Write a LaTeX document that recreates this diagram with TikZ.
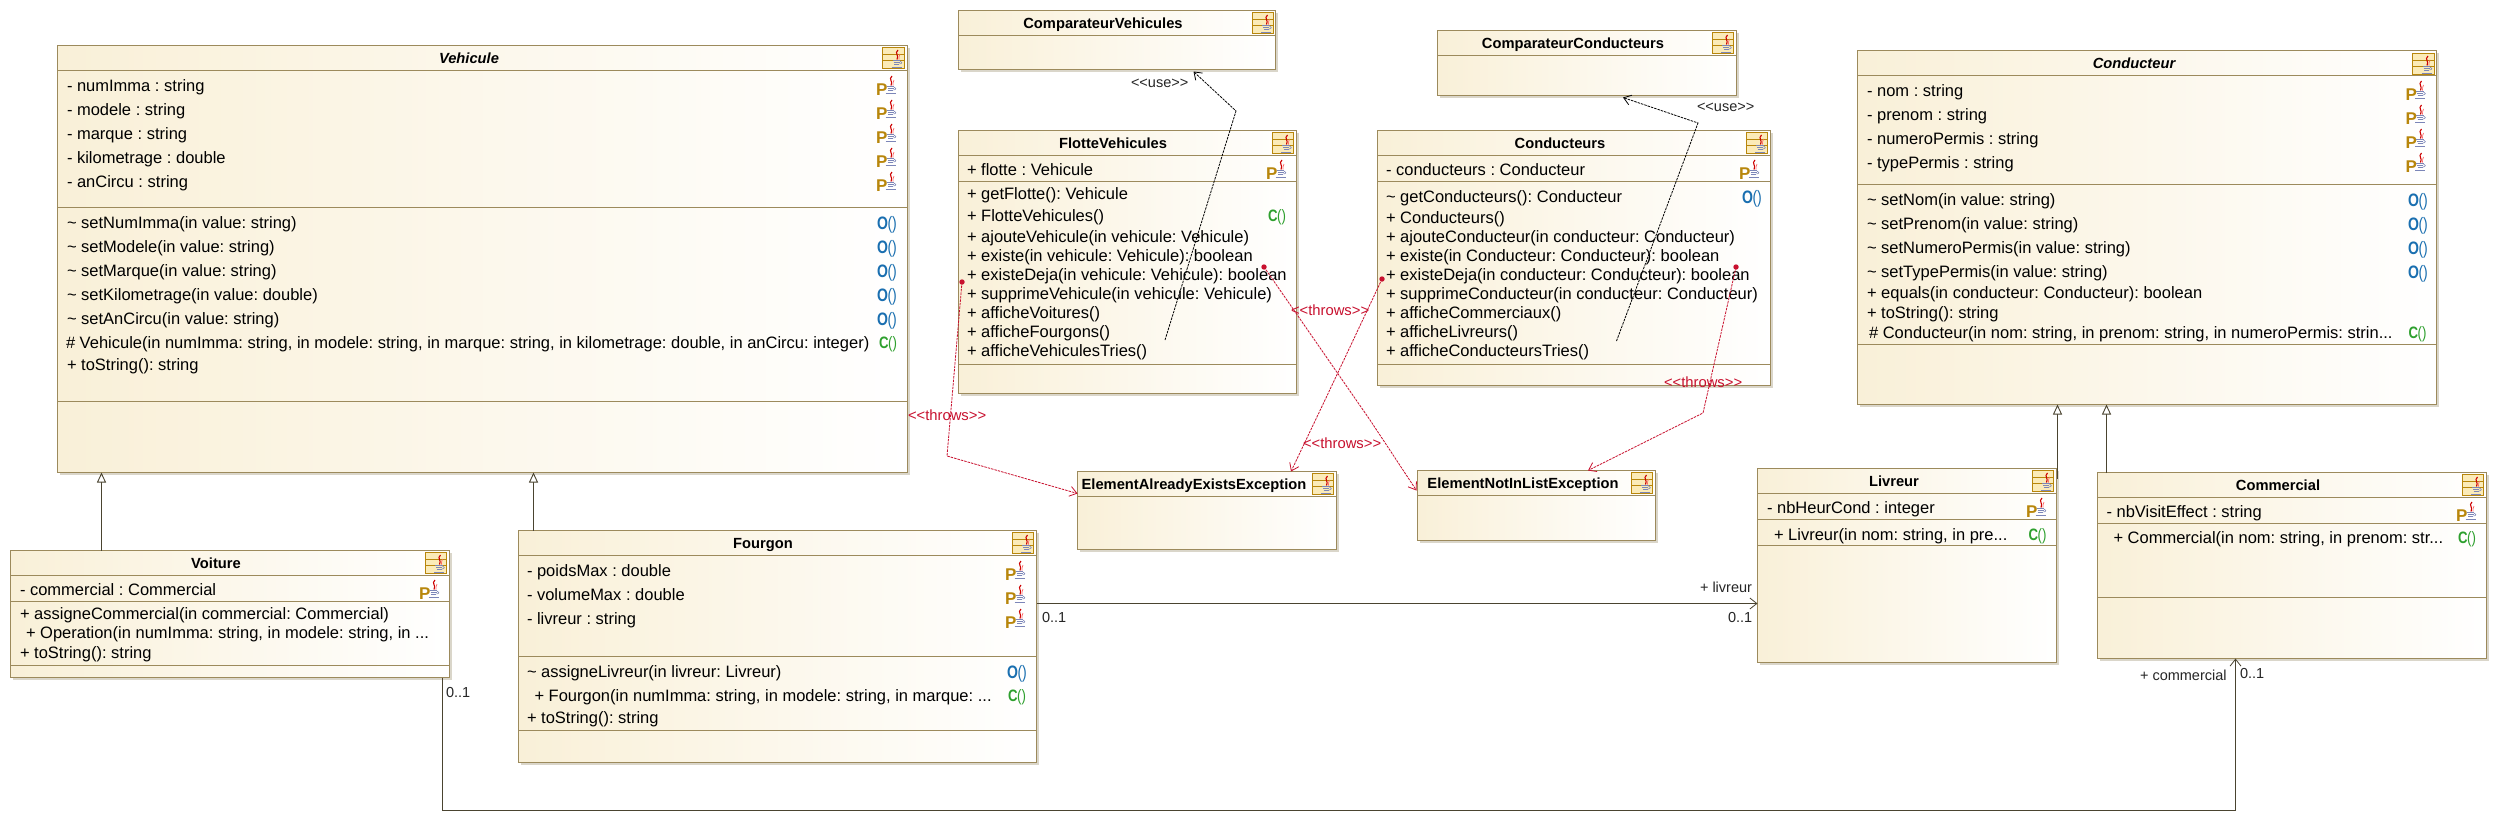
\documentclass[tikz,border=0pt]{standalone}
\usepackage{fontspec}
\setmainfont{Liberation Sans}
\usetikzlibrary{arrows.meta,calc}
\definecolor{umlborder}{HTML}{9C8A5C}
\definecolor{umlcream}{HTML}{F9F0D8}
\definecolor{umlshadow}{HTML}{DAD6CA}
\definecolor{umlred}{HTML}{C8102E}
\definecolor{umlline}{HTML}{4A4430}
\definecolor{umlgold}{HTML}{B8860B}
\definecolor{umlicon}{HTML}{FBEBB8}
\definecolor{umlcup}{HTML}{7C86B8}
\definecolor{umlop}{HTML}{1A6FB0}
\definecolor{umlctor}{HTML}{2EA02E}
\newcount\umlid
\frenchspacing
\tikzset{
  x=1pt,y=-1pt,
  classbox/.style={draw=umlborder,line width=1.1pt,left color=umlcream,right color=white,inner sep=0pt,outer sep=0pt,anchor=north west},
  sepline/.style={draw=umlborder,line width=1pt},
  rowtext/.style={anchor=base west,inner sep=0pt,outer sep=0pt,font=\fontsize{16.5}{18}\selectfont,text=black},
  nametext/.style={anchor=base,inner sep=0pt,outer sep=0pt,font=\fontsize{14.7}{18}\selectfont\bfseries,text=black},
  absnametext/.style={nametext,font=\fontsize{14.7}{18}\selectfont\bfseries\itshape},
  linktext/.style={anchor=base west,inner sep=0pt,outer sep=0pt,font=\fontsize{14.5}{18}\selectfont,text=black!85},
  throwtext/.style={anchor=base west,inner sep=0pt,outer sep=0pt,font=\fontsize{14.8}{18}\selectfont,text=umlred},
  opicon/.style={anchor=base west,inner sep=0pt,outer sep=0pt,text=umlop},
  ctoricon/.style={anchor=base west,inner sep=0pt,outer sep=0pt,text=umlctor},
  pvicon/.style={anchor=base west,inner sep=0pt,outer sep=0pt,text=umlgold,font=\fontsize{17}{18}\selectfont\bfseries},
  genlink/.style={draw=umlline,line width=.9pt,-{Triangle[open,fill=white,length=10pt,width=9pt]}},
  assoclink/.style={draw=umlline,line width=1.1pt,-{Straight Barb[length=7pt,width=11pt,line width=.8pt]}},
  uselink/.style={draw=black,line width=.8pt,dash pattern=on 2.5pt off 1pt,-{Straight Barb[length=7pt,width=10pt,line width=.8pt]}},
  throwlink/.style={draw=umlred,line width=.8pt,dash pattern=on 2.5pt off 1pt,-{Straight Barb[length=7pt,width=10pt,line width=.8pt]}},
  throwdot/.style={fill=umlred},
}
% box: name, left, top, right, bottom, separators
\newcommand{\umlbox}[6]{%
  \fill[umlshadow] (#2+2,#3+2) rectangle (#4+2,#5+2);
  \pgfmathsetmacro{\umlw}{#4-#2}\pgfmathsetmacro{\umlh}{#5-#3}%
  \node[classbox,minimum width=\umlw pt,minimum height=\umlh pt] (#1) at (#2,#3) {};
  \foreach \umls in {#6} \draw[sepline] (#2,\umls) -- (#4,\umls);
}
\newcommand{\umlcup}[2]{%
  \begin{scope}[shift={(#1,#2)}]
    \draw[red!80!black,line width=1.1pt] (1.5,0) .. controls (-2.5,3.5) and (3,5) .. (0.5,9.5);
    \draw[red!60!white,line width=.7pt] (3.5,4) .. controls (1.5,6) and (3.5,7) .. (2.5,9.5);
    \draw[umlcup,line width=.8pt] (-4,10.5) -- (3.5,10.5) (-3,12.5) -- (3,12.5) (-2.5,14.5) -- (2.5,14.5) (-5,17) -- (5,17);
    \draw[umlcup,line width=.6pt] (3.5,11) .. controls (6,11) and (6,14) .. (3,14);
  \end{scope}
}
% class icon: left and top
\newcommand{\umlcls}[2]{%
  \begin{scope}[shift={(#1,#2)}]
    \fill[umlicon] (0,0) rectangle (21.5,21.5);
    \draw[umlgold,line width=1pt] (0,0) rectangle (21.5,21.5) (0,7) -- (21.5,7) (0,13) -- (21.5,13);
  \end{scope}
  \umlcup{#1+14}{#2+3}
}
\newcommand{\umlname}[3]{\global\advance\umlid 1 \node[nametext] (t\the\umlid) at (#1,#2+5.2) {#3};}
\newcommand{\umlabs}[3]{\global\advance\umlid 1 \node[absnametext] (t\the\umlid) at (#1,#2+5.2) {#3};}
\newcommand{\umlrow}[3]{\global\advance\umlid 1 \node[rowtext] (t\the\umlid) at (#1,#2+5.7) {#3};}
% attribute icon: left of the P, centre line of the row
\newcommand{\umlpv}[2]{\global\advance\umlid 1 \node[pvicon] (t\the\umlid) at (#1,#2+9) {P};\umlcup{#1+14.5}{#2-10}}
\newcommand{\umlopi}[2]{\global\advance\umlid 1 \node[opicon] (t\the\umlid) at (#1,#2+6.3) {\scalebox{.78}[1]{\fontsize{18}{18}\selectfont\bfseries O\kern-.5pt\mdseries()}};}
\newcommand{\umlctori}[2]{\global\advance\umlid 1 \node[ctoricon] (t\the\umlid) at (#1,#2+5.7) {\scalebox{.8}[1]{\fontsize{16.5}{18}\selectfont\bfseries C\kern-.5pt\mdseries()}};}
\begin{document}
\begin{tikzpicture}
\useasboundingbox (0,0) rectangle (2498,831);
\fill[white] (0,0) rectangle (2498,831);

% ---- Vehicule
\umlbox{veh}{57.5}{45.5}{907.5}{472.5}{70.5,207.5,401.5}
\umlcls{882.5}{47}
\umlabs{469}{58}{Vehicule}
\umlrow{67}{86}{- numImma : string}\umlpv{876}{86}
\umlrow{67}{110}{- modele : string}\umlpv{876}{110}
\umlrow{67}{134}{- marque : string}\umlpv{876}{134}
\umlrow{67}{158}{- kilometrage : double}\umlpv{876}{158}
\umlrow{67}{182}{- anCircu : string}\umlpv{876}{182}
\umlrow{67}{223}{\textasciitilde\ setNumImma(in value: string)}\umlopi{877}{223}
\umlrow{67}{247}{\textasciitilde\ setModele(in value: string)}\umlopi{877}{247}
\umlrow{67}{271}{\textasciitilde\ setMarque(in value: string)}\umlopi{877}{271}
\umlrow{67}{295}{\textasciitilde\ setKilometrage(in value: double)}\umlopi{877}{295}
\umlrow{67}{319}{\textasciitilde\ setAnCircu(in value: string)}\umlopi{877}{319}
\umlrow{66}{343}{\# Vehicule(in numImma: string, in modele: string, in marque: string, in kilometrage: double, in anCircu: integer)}\umlctori{879}{343}
\umlrow{67}{365}{+ toString(): string}

% ---- ComparateurVehicules
\umlbox{cmpv}{958.5}{10.5}{1275.5}{69.5}{35.5}
\umlcls{1252}{12}
\umlname{1103}{23}{ComparateurVehicules}

% ---- ComparateurConducteurs
\umlbox{cmpc}{1437.5}{30.5}{1736.5}{95.5}{55.5}
\umlcls{1712}{32}
\umlname{1573}{43}{ComparateurConducteurs}

% ---- FlotteVehicules
\umlbox{flot}{958.5}{130.5}{1296.5}{393.5}{155.5,181.5,364.5}
\umlcls{1272}{132}
\umlname{1113}{143}{FlotteVehicules}
\umlrow{967}{170}{+ flotte : Vehicule}\umlpv{1266}{170}
\umlrow{967}{194}{+ getFlotte(): Vehicule}
\umlrow{967}{216}{+ FlotteVehicules()}\umlctori{1268}{216}
\umlrow{967}{237}{+ ajouteVehicule(in vehicule: Vehicule)}
\umlrow{967}{256}{+ existe(in vehicule: Vehicule): boolean}
\umlrow{967}{275}{+ existeDeja(in vehicule: Vehicule): boolean}
\umlrow{967}{294}{+ supprimeVehicule(in vehicule: Vehicule)}
\umlrow{967}{313}{+ afficheVoitures()}
\umlrow{967}{332}{+ afficheFourgons()}
\umlrow{967}{351}{+ afficheVehiculesTries()}

% ---- Conducteurs
\umlbox{cond}{1377.5}{130.5}{1770.5}{385.5}{155.5,181.5,364.5}
\umlcls{1746}{132}
\umlname{1560}{143}{Conducteurs}
\umlrow{1386}{170}{- conducteurs : Conducteur}\umlpv{1739}{170}
\umlrow{1386}{197}{\textasciitilde\ getConducteurs(): Conducteur}\umlopi{1742}{197}
\umlrow{1386}{218}{+ Conducteurs()}
\umlrow{1386}{237}{+ ajouteConducteur(in conducteur: Conducteur)}
\umlrow{1386}{256}{+ existe(in Conducteur: Conducteur): boolean}
\umlrow{1386}{275}{+ existeDeja(in conducteur: Conducteur): boolean}
\umlrow{1386}{294}{+ supprimeConducteur(in conducteur: Conducteur)}
\umlrow{1386}{313}{+ afficheCommerciaux()}
\umlrow{1386}{332}{+ afficheLivreurs()}
\umlrow{1386}{351}{+ afficheConducteursTries()}

% ---- Conducteur
\umlbox{cdr}{1857.5}{50.5}{2436.5}{404.5}{75.5,184.5,344.5}
\umlcls{2412.5}{53}
\umlabs{2134}{63}{Conducteur}
\umlrow{1867}{91}{- nom : string}\umlpv{2405.5}{91}
\umlrow{1867}{115}{- prenom : string}\umlpv{2405.5}{115}
\umlrow{1867}{139}{- numeroPermis : string}\umlpv{2405.5}{139}
\umlrow{1867}{163}{- typePermis : string}\umlpv{2405.5}{163}
\umlrow{1867}{200}{\textasciitilde\ setNom(in value: string)}\umlopi{2408}{200}
\umlrow{1867}{224}{\textasciitilde\ setPrenom(in value: string)}\umlopi{2408}{224}
\umlrow{1867}{248}{\textasciitilde\ setNumeroPermis(in value: string)}\umlopi{2408}{248}
\umlrow{1867}{272}{\textasciitilde\ setTypePermis(in value: string)}\umlopi{2408}{272}
\umlrow{1867}{293}{+ equals(in conducteur: Conducteur): boolean}
\umlrow{1867}{313}{+ toString(): string}
\umlrow{1869}{333}{\# Conducteur(in nom: string, in prenom: string, in numeroPermis: strin...}\umlctori{2408.5}{333}

% ---- Voiture
\umlbox{voit}{10.5}{550.5}{449.5}{677.5}{575.5,601.5,665.5}
\umlcls{425}{552}
\umlname{216}{563}{Voiture}
\umlrow{20}{590}{- commercial : Commercial}\umlpv{419}{590}
\umlrow{20}{614}{+ assigneCommercial(in commercial: Commercial)}
\umlrow{26}{633}{+ Operation(in numImma: string, in modele: string, in ...}
\umlrow{20}{653}{+ toString(): string}

% ---- Fourgon
\umlbox{four}{518.5}{530.5}{1036.5}{762.5}{555.5,656.5,730.5}
\umlcls{1012}{532}
\umlname{763}{543}{Fourgon}
\umlrow{527}{571}{- poidsMax : double}\umlpv{1005}{571}
\umlrow{527}{595}{- volumeMax : double}\umlpv{1005}{595}
\umlrow{527}{619}{- livreur : string}\umlpv{1005}{619}
\umlrow{527}{672}{\textasciitilde\ assigneLivreur(in livreur: Livreur)}\umlopi{1007}{672}
\umlrow{534.5}{696}{+ Fourgon(in numImma: string, in modele: string, in marque: ...}\umlctori{1008}{696}
\umlrow{527}{718}{+ toString(): string}

% ---- Exceptions
\umlbox{eae}{1077.5}{471.5}{1336.5}{549.5}{496.5}
\umlcls{1312}{473}
\umlname{1194}{484}{ElementAlreadyExistsException}
\umlbox{enl}{1417.5}{470.5}{1655.5}{540.5}{495.5}
\umlcls{1631}{472}
\umlname{1523}{483}{ElementNotInListException}

% ---- Livreur
\umlbox{livr}{1757.5}{468.5}{2056.5}{662.5}{493.5,519.5,545.5}
\umlcls{2032}{470}
\umlname{1894}{481}{Livreur}
\umlrow{1767}{508}{- nbHeurCond : integer}\umlpv{2026}{508}
\umlrow{1774}{535}{+ Livreur(in nom: string, in pre...}\umlctori{2028.5}{535}

% ---- Commercial
\umlbox{comm}{2097.5}{472.5}{2486.5}{658.5}{497.5,523.5,597.5}
\umlcls{2462}{474}
\umlname{2278}{485}{Commercial}
\umlrow{2106.5}{512}{- nbVisitEffect : string}\umlpv{2456}{512}
\umlrow{2113.5}{538}{+ Commercial(in nom: string, in prenom: str...}\umlctori{2458}{538}

% ---- generalisations
\draw[genlink] ($(voit.north west)+(91,0)$) -- ($(veh.south west)+(44,0)$);
\draw[genlink] ($(four.north west)+(15,0)$) -- ($(veh.south west)+(476,0)$);
\draw[genlink] ($(livr.north east)+(1,10)$) -- ($(cdr.south west)+(200,0)$);
\draw[genlink] ($(comm.north west)+(9,0)$) -- ($(cdr.south west)+(249,0)$);

% ---- associations
\draw[assoclink] ($(four.north east)+(0,73)$) -- ($(livr.north west)+(0,135)$);
\coordinate (assocbendA) at ($(voit.south east)+(-7,133)$);
\coordinate (assocbendB) at ($(comm.south west)+(138,152)$);
\draw[assoclink] ($(voit.south east)+(-7,0)$) -- (assocbendA) -- (assocbendB) -- ($(comm.south west)+(138,0)$);
\node[linktext] (la) at (1042,622) {0..1};
\node[linktext] (lb) at (1728,622) {0..1};
\node[linktext] (lc) at (1700,592) {+ livreur};
\node[linktext] (ld) at (446,697) {0..1};
\node[linktext] (le) at (2140,680) {+ commercial};
\node[linktext] (lf) at (2240,678) {0..1};

% ---- use
\coordinate (usefrom) at (1165,340);
\coordinate (usebend) at (1236,111);
\draw[uselink] (usefrom) -- (usebend) -- ($(cmpv.south west)+(235,2)$);
\node[linktext] (ua) at (1131,87) {<\kern0pt<use>\kern0pt>};
\coordinate (usefromb) at (1616.5,341);
\coordinate (usebendb) at (1698,123);
\draw[uselink] (usefromb) -- (usebendb) -- ($(cmpc.south west)+(185.5,2)$);
\node[linktext] (ub) at (1697,111) {<\kern0pt<use>\kern0pt>};

% ---- throws
\coordinate (tha) at (962,282);
\coordinate (thabend) at (947,456);
\fill[throwdot] (tha) circle (2.7);
\draw[throwlink] (tha) -- (thabend) -- ($(eae.north west)+(0,22)$);
\node[throwtext] (ta) at (908,420) {<\kern0pt<throws>\kern0pt>};
\coordinate (thb) at (1264,267);
\coordinate (thbbend) at (1370,420);
\fill[throwdot] (thb) circle (2.7);
\draw[throwlink] (thb) -- (thbbend) -- ($(enl.north west)+(-1,20)$);
\node[throwtext] (tb) at (1291,315) {<\kern0pt<throws>\kern0pt>};
\coordinate (thc) at (1382,279);
\coordinate (thcbend) at (1325,400);
\fill[throwdot] (thc) circle (2.7);
\draw[throwlink] (thc) -- (thcbend) -- ($(eae.north west)+(213.5,0)$);
\node[throwtext] (tc) at (1303,448) {<\kern0pt<throws>\kern0pt>};
\coordinate (thd) at (1736,267);
\coordinate (thdbend) at (1703,413);
\fill[throwdot] (thd) circle (2.7);
\draw[throwlink] (thd) -- (thdbend) -- ($(enl.north west)+(170.5,0)$);
\node[throwtext] (td) at (1664,387) {<\kern0pt<throws>\kern0pt>};
\end{tikzpicture}
\end{document}
